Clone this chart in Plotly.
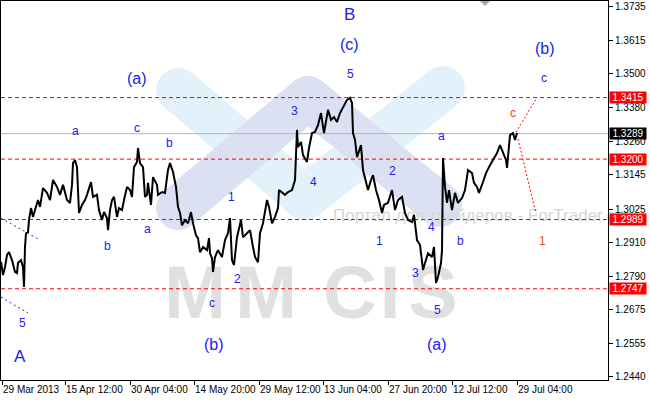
import math
import plotly.graph_objects as go

# ---------------- data ----------------
bar_index = [1, 2, 3, 5, 7, 9, 12, 15, 17, 18, 21, 23, 24, 25, 26, 28, 29, 31, 33, 35,
             38, 40, 42, 43, 47, 50, 53, 57, 60, 63, 67, 70, 72, 73, 75, 77, 79, 82, 85, 87,
             91, 93, 97, 99, 102, 104, 107, 108, 110, 112, 114, 117, 119, 122, 124, 127, 130, 132, 134, 137,
             138, 140, 143, 145, 147, 148, 151, 153, 157, 158, 162, 165, 168, 170, 173, 176, 178, 180, 182, 185,
             188, 191, 193, 196, 198, 200, 203, 207, 209, 210, 212, 213, 215, 218, 222, 225, 228, 230, 232, 234,
             237, 241, 243, 247, 250, 253, 255, 258, 260, 263, 267, 269, 272, 275, 278, 279, 282, 285, 288, 292,
             295, 297, 298, 301, 303, 307, 309, 312, 315, 318, 321, 324, 328, 331, 334, 337, 340, 343, 347, 350,
             352, 353, 355, 357, 359, 361, 363, 366, 368, 371, 373, 376, 379, 382, 384, 388, 392, 395, 398, 402,
             405, 408, 412, 414, 417, 420, 423, 425, 428, 432, 434, 436, 438, 441, 442, 443, 445, 447, 449, 452,
             455, 458, 462, 465, 468, 472, 474, 477, 479, 483, 486, 490, 493, 497, 500, 503, 506, 507, 510, 513,
             515, 517]
close_price = [1.2841, 1.2806, 1.2795, 1.2823, 1.2865, 1.2875, 1.2847, 1.2806, 1.2802, 1.2837,
               1.2847, 1.2823, 1.2753, 1.2893, 1.2941, 1.2945, 1.2987, 1.3029, 1.2998, 1.3022,
               1.3057, 1.3033, 1.3085, 1.3099, 1.3082, 1.3057, 1.3127, 1.3103, 1.3075, 1.3110,
               1.3057, 1.3047, 1.3110, 1.3186, 1.3197, 1.3172, 1.3012, 1.3040, 1.3057, 1.3075,
               1.3120, 1.3068, 1.3075, 1.3022, 1.2987, 1.3015, 1.2994, 1.2952, 1.3022, 1.3057,
               1.3068, 1.2998, 1.3029, 1.3022, 1.3057, 1.3103, 1.3092, 1.3068, 1.3172, 1.3190,
               1.3239, 1.3186, 1.3172, 1.3068, 1.3075, 1.3117, 1.3040, 1.3137, 1.3110, 1.3075,
               1.3085, 1.3082, 1.3162, 1.3186, 1.3155, 1.3103, 1.3033, 1.3012, 1.2969, 1.2987,
               1.2976, 1.3015, 1.2976, 1.2934, 1.2924, 1.2875, 1.2893, 1.2882, 1.2924, 1.2871,
               1.2854, 1.2806, 1.2858, 1.2882, 1.2858, 1.2917, 1.2941, 1.2994, 1.2847, 1.2830,
               1.2927, 1.2987, 1.2927, 1.2941, 1.2952, 1.2893, 1.2858, 1.2840, 1.2941, 1.2976,
               1.3057, 1.3033, 1.2976, 1.2998, 1.3029, 1.3092, 1.3082, 1.3075, 1.3085, 1.3092,
               1.3127, 1.3302, 1.3242, 1.3260, 1.3214, 1.3190, 1.3239, 1.3291, 1.3295, 1.3319,
               1.3361, 1.3291, 1.3372, 1.3337, 1.3347, 1.3330, 1.3361, 1.3379, 1.3407, 1.3414,
               1.3396, 1.3291, 1.3267, 1.3207, 1.3232, 1.3249, 1.3162, 1.3117, 1.3092, 1.3127,
               1.3144, 1.3092, 1.3057, 1.3012, 1.3040, 1.3047, 1.3092, 1.3022, 1.3057, 1.3068,
               1.3012, 1.2987, 1.2980, 1.3005, 1.2917, 1.2900, 1.2813, 1.2837, 1.2871, 1.2858,
               1.2893, 1.2767, 1.2788, 1.2837, 1.2882, 1.3204, 1.3103, 1.3047, 1.3092, 1.3022,
               1.3082, 1.3047, 1.3064, 1.3092, 1.3162, 1.3151, 1.3117, 1.3103, 1.3082, 1.3120,
               1.3151, 1.3179, 1.3197, 1.3221, 1.3249, 1.3221, 1.3197, 1.3169, 1.3284, 1.3291,
               1.3267, 1.3291]

red_levels = [1.3415, 1.3200, 1.2989, 1.2747]
gray_level = 1.3289

ytick_vals = [1.3735, 1.3615, 1.3500, 1.3380, 1.3260, 1.3145, 1.3025,
              1.2910, 1.2790, 1.2675, 1.2555, 1.2440]
ytick_text = ["1.3735", "1.3615", "1.3500", "1.3380", "1.3260", "1.3145", "1.3025",
              "1.2910", "1.2790", "1.2675", "1.2555", "1.2440"]
xtick_pos = [2, 65, 130, 194, 259, 323, 388, 452, 517]
xtick_text = ["29 Mar 2013", "15 Apr 12:00", "30 Apr 04:00", "14 May 20:00", "29 May 12:00",
              "13 Jun 04:00", "27 Jun 20:00", "12 Jul 12:00", "29 Jul 04:00"]

forecast_up_x = [516, 537]
forecast_up_y = [1.3294, 1.3415]
forecast_down_x = [518, 536]
forecast_down_y = [1.3270, 1.3010]
blue_trend1_x = [1, 40]
blue_trend1_y = [1.2994, 1.2917]
blue_trend2_x = [1, 28]
blue_trend2_y = [1.2718, 1.2662]

wave_text = ["A", "5", "(a)", "a", "c", "b", "b", "a", "c", "(b)",
             "1", "2", "3", "4", "5", "(c)", "B", "2", "1", "4",
             "3", "5", "(a)", "a", "b", "(b)", "c", "c", "1"]
wave_x = [20, 22, 137, 75, 137, 169, 107, 147, 212, 214,
          231, 237, 294, 313, 350, 349, 349, 392, 379, 431,
          415, 437, 437, 441, 460, 545, 544, 513, 542]
wave_y = [1.2512, 1.2627, 1.3480, 1.3298, 1.3309, 1.3256, 1.2896, 1.2956, 1.2697, 1.2551,
          1.3068, 1.2781, 1.3368, 1.3120, 1.3497, 1.3602, 1.3704, 1.3159, 1.2914, 1.2963,
          1.2802, 1.2673, 1.2551, 1.3281, 1.2914, 1.3588, 1.3483, 1.3361, 1.2914]
wave_size = [17, 12, 16, 12, 12, 12, 12, 12, 12, 16,
             12, 12, 12, 12, 12, 16, 17, 12, 12, 12,
             12, 12, 16, 12, 12, 16, 12, 12, 12]
wave_color = ["#2020f0"] * 27 + ["#e84a14", "#e84a14"]

wm_letters = ["M", "M", "C", "I", "S"]
wm_x = [195, 266, 350, 390, 433]
wm_y = 1.2710
wm_caption = "Портал для трейдеров - ForTrader.org"

# ---------------- figure ----------------
Y0, Y1 = 1.24282, 1.37525
X0, X1 = 1, 608
BLUE = "#2020f0"


def px2paper(px, py):
    return (px - 1) / 607.0, (380 - py) / 379.0


def band_path(p1, p2, w, n=12):
    r = w / 2.0
    td = math.atan2(p2[1] - p1[1], p2[0] - p1[0])
    pts = []
    for k in range(n + 1):
        a = td + math.pi / 2 - k * math.pi / n
        pts.append((p2[0] + r * math.cos(a), p2[1] + r * math.sin(a)))
    for k in range(n + 1):
        a = td - math.pi / 2 - k * math.pi / n
        pts.append((p1[0] + r * math.cos(a), p1[1] + r * math.sin(a)))
    conv = [px2paper(x, y) for x, y in pts]
    return "M " + " L ".join(f"{x:.4f},{y:.4f}" for x, y in conv) + " Z"


fig = go.Figure()

shapes = []
cyan = "#e3f1fa"
lav = "#dbe0f3"
for p1, p2, col in [((178, 90), (305, 198), cyan), ((305, 198), (443, 88), cyan),
                    ((178, 208), (308, 98), lav), ((308, 98), (440, 205), lav)]:
    shapes.append(dict(type="path", path=band_path(p1, p2, 44), xref="paper", yref="paper",
                       fillcolor=col, line=dict(width=0), layer="below"))

# watermark text (below data)
fig.add_trace(go.Scatter(x=wm_x, y=[wm_y] * len(wm_letters), mode="text", text=wm_letters,
                         textfont=dict(family="Liberation Sans", size=74, color="#e0e0e0",
                                       weight="bold"),
                         textposition="middle center", hoverinfo="skip", showlegend=False))
fig.add_trace(go.Scatter(x=[333], y=[1.2998], mode="text", text=[wm_caption],
                         textfont=dict(family="Liberation Sans", size=17, color="#d6d6d6"),
                         textposition="middle right", cliponaxis=False,
                         hoverinfo="skip", showlegend=False))

# horizontal levels
for lv in red_levels:
    fig.add_trace(go.Scatter(x=[X0, X1], y=[lv, lv], mode="lines",
                             line=dict(color="#ff0000", width=1, dash="4px,3px"),
                             hoverinfo="skip", showlegend=False))
fig.add_trace(go.Scatter(x=[X0, X1], y=[gray_level, gray_level], mode="lines",
                         line=dict(color="#b4b4b4", width=1),
                         hoverinfo="skip", showlegend=False))

# price
fig.add_trace(go.Scatter(x=bar_index, y=close_price, mode="lines",
                         line=dict(color="#000000", width=2), showlegend=False))

# trend / forecast lines
for xs, ys, col, dash in [(forecast_up_x, forecast_up_y, "#ff0000", "2px,2px"),
                          (forecast_down_x, forecast_down_y, "#ff0000", "2px,2px"),
                          (blue_trend1_x, blue_trend1_y, BLUE, "2px,3px"),
                          (blue_trend2_x, blue_trend2_y, BLUE, "2px,3px")]:
    fig.add_trace(go.Scatter(x=xs, y=ys, mode="lines", line=dict(color=col, width=1, dash=dash),
                             hoverinfo="skip", showlegend=False))

annotations = []
for t, x, y, s, c in zip(wave_text, wave_x, wave_y, wave_size, wave_color):
    annotations.append(dict(x=x, y=y, xref="x", yref="y", text=t, showarrow=False,
                            font=dict(family="Liberation Sans", size=s, color=c)))

# price boxes on the axis
for lv, bg in [(1.3415, "#ff0000"), (1.3200, "#ff0000"), (1.2989, "#ff0000"),
               (1.2747, "#ff0000"), (1.3289, "#000000")]:
    annotations.append(dict(x=1.0018, y=lv, xref="paper", yref="y", xanchor="left",
                            yanchor="middle", text=f"{lv:.4f}", showarrow=False,
                            bgcolor=bg, width=36, height=11, borderpad=0,
                            font=dict(family="Liberation Sans", size=10, color="#ffffff")))

# small shift marker at the top
mx0, my0 = px2paper(480, 1)
mx1, my1 = px2paper(490, 1)
mx2, my2 = px2paper(485, 6)
shapes.append(dict(type="path", path=f"M {mx0},{my0} L {mx1},{my1} L {mx2},{my2} Z",
                   xref="paper", yref="paper", fillcolor="#a8a8a8", line=dict(width=0)))

fig.update_layout(
    width=650, height=400, autosize=False,
    margin=dict(l=1, r=42, t=1, b=20),
    paper_bgcolor="#ffffff", plot_bgcolor="#ffffff",
    shapes=shapes, annotations=annotations,
    xaxis=dict(range=[X0, X1], showgrid=False, zeroline=False, showline=True,
               linecolor="#000000", linewidth=1, mirror=True,
               tickmode="array", tickvals=xtick_pos, ticktext=xtick_text,
               ticks="outside", ticklen=4, tickcolor="#000000", tickangle=0,
               ticklabelposition="outside right",
               tickfont=dict(family="Liberation Sans", size=10, color="#000000")),
    yaxis=dict(range=[Y0, Y1], side="right", showgrid=False, zeroline=False, showline=True,
               linecolor="#000000", linewidth=1, mirror=True,
               tickmode="array", tickvals=ytick_vals, ticktext=ytick_text,
               ticks="outside", ticklen=4, tickcolor="#000000",
               tickfont=dict(family="Liberation Sans", size=10, color="#000000")),
)

fig.write_html("out.html", config={"displayModeBar": False},
               post_script="document.body.style.margin='0px';document.body.style.overflow='hidden';")
